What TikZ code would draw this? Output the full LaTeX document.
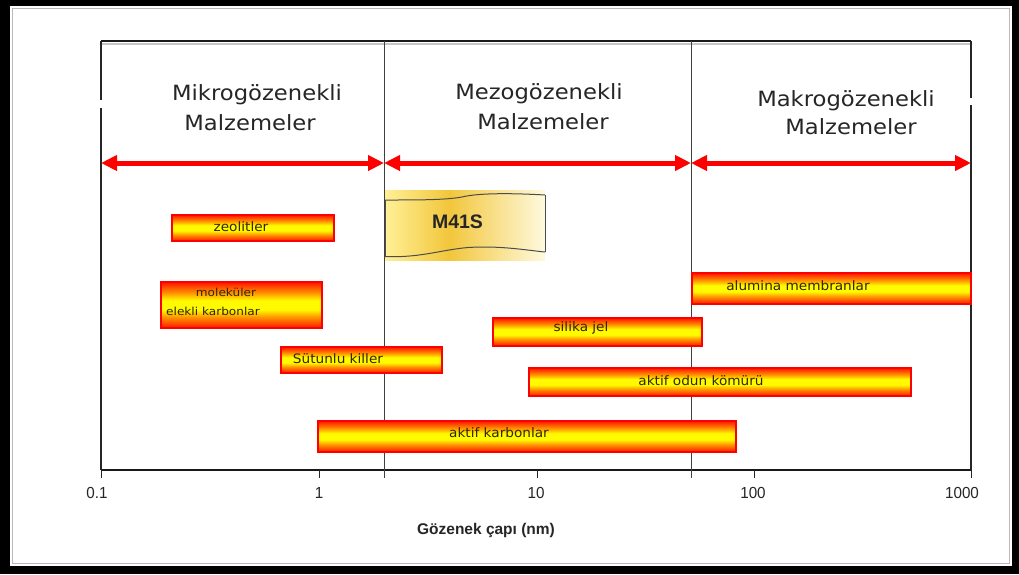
\documentclass[tikz,border=0pt]{standalone}
\usepackage{fontspec}
\setmainfont{DejaVu Sans}
\newfontfamily\hdrfont[FakeStretch=1.08]{DejaVu Sans}
\newfontfamily\barfont[FakeStretch=1.05]{DejaVu Sans}
\newfontfamily\smallfont[FakeStretch=1.1]{DejaVu Sans}
\newfontfamily\axfont[FakeStretch=0.95]{Liberation Sans}
\newfontfamily\mfont{Liberation Sans}
\usetikzlibrary{arrows.meta}
\definecolor{barred}{RGB}{255,20,0}
\definecolor{barorange}{RGB}{255,150,0}
\definecolor{baryel}{RGB}{255,250,0}
\definecolor{bartext}{RGB}{45,40,0}
\definecolor{tapeA}{RGB}{255,240,150}
\definecolor{tapeB}{RGB}{242,198,60}
\definecolor{tapeC}{RGB}{255,250,222}
\pgfdeclareverticalshading{barshade}{100bp}{color(0bp)=(barred); color(25bp)=(barred); color(37bp)=(barorange); color(45bp)=(baryel); color(55bp)=(baryel); color(63bp)=(barorange); color(75bp)=(barred); color(100bp)=(barred)}
\pgfdeclarehorizontalshading{tapeshade}{100bp}{color(0bp)=(tapeA); color(25bp)=(tapeA); color(45bp)=(tapeB); color(75bp)=(tapeC); color(100bp)=(tapeC)}
\tikzset{
  pbar/.style={draw=red, line width=1.6pt, shading=barshade},
  bartxt/.style={font=\barfont\fontsize{13}{15}\selectfont, text=bartext, inner sep=0pt},
  smalltxt/.style={font=\smallfont\fontsize{11}{13}\selectfont, text=bartext, inner sep=0pt},
  hdr/.style={font=\hdrfont\fontsize{21}{25}\selectfont, text=black!85, inner sep=0pt},
  ticklbl/.style={font=\axfont\fontsize{16}{18}\selectfont, text=black!85, inner sep=0pt},
  redarrow/.style={draw=red, line width=5pt, {Triangle[length=16pt,width=15pt]}-{Triangle[length=16pt,width=15pt]}},
  frameline/.style={draw=black!85, line width=1.8pt},
  divline/.style={draw=black!75, line width=0.9pt},
  tapeline/.style={draw=black!70, line width=1pt}
}
\begin{document}
\begin{tikzpicture}[x=1pt,y=-1pt]
\useasboundingbox (0,0) rectangle (1019,574);
% outer frame
\fill[black] (0,0) rectangle (1019,574);
\fill[white] (10,6) rectangle (1012,566);
\draw[gray!55, line width=0.8pt] (12.5,8.5) rectangle (1009.5,563.5);

% coordinates
\coordinate (L0) at (101,41);
\coordinate (R0) at (971,41);
\coordinate (LB) at (101,470);
\coordinate (RB) at (971,470);
\coordinate (D1t) at (384,41);
\coordinate (D1b) at (384,478);
\coordinate (D2t) at (691,41);
\coordinate (D2b) at (691,478);

% plot frame
\draw[gray!45, line width=1.5pt] (102,44) -- (972,44);
\draw[black!90, line width=2.6pt] (L0) -- (R0);
\draw[frameline] (L0) -- (101,100);
\draw[frameline] (101,108) -- (LB);
\draw[frameline] (R0) -- (971,98);
\draw[frameline] (971,105) -- (RB);
\draw[black!90, line width=2pt] (LB) -- (RB);
\draw[divline] (D1t) -- (D1b);
\draw[divline] (D2t) -- (D2b);
\foreach \x in {101,319.6,537.7,754.6,971}{
  \draw[black!85, line width=1pt] (\x,470) -- (\x,478);
}

% tick labels
\node[ticklbl] (t01) at (97,493) {0.1};
\node[ticklbl] (t1) at (319,493) {1};
\node[ticklbl] (t10) at (536,493) {10};
\node[ticklbl] (t100) at (753,493) {100};
\node[ticklbl] (t1000) at (962,493) {1000};
\node[font=\mfont\bfseries\fontsize{15.5}{18}\selectfont, text=black!85, inner sep=0pt] (xlabel) at (486,530) {Gözenek çapı (nm)};

% headers
\node[hdr] (h1a) at (257,95) {Mikrogözenekli};
\node[hdr] (h1b) at (250,123) {Malzemeler};
\node[hdr] (h2a) at (539,94) {Mezogözenekli};
\node[hdr] (h2b) at (543,122) {Malzemeler};
\node[hdr] (h3a) at (846,101) {Makrogözenekli};
\node[hdr] (h3b) at (851,127) {Malzemeler};

% red arrows
\coordinate (A0) at (101,163);
\coordinate (A1) at (384,163);
\coordinate (A2) at (691,163);
\coordinate (A3) at (971,163);
\draw[redarrow] (A0) -- (A1);
\draw[redarrow] (A1) -- (A2);
\draw[redarrow] (A2) -- (A3);

% M41S tape
\path[shading=tapeshade] (385,190) rectangle (545,260);
\draw[tapeline] (385,200) .. controls (420,200) and (445,200) .. (462,197) .. controls (478,193) and (510,193) .. (545,195);
\draw[tapeline] (385,256.5) .. controls (420,258) and (440,250) .. (468,247.5) .. controls (500,245.5) and (525,250) .. (545,252);
\draw[tapeline] (385,200) -- (385,256.5);
\draw[tapeline] (545,195) -- (545,252);
\node[font=\mfont\bfseries\fontsize{19.5}{21}\selectfont, text=black!85, inner sep=0pt] (m41s) at (457.5,221.5) {M41S};

% bars
\path[pbar] (172,215) rectangle (334,241);
\node[bartxt] (zeo) at (241,227) {zeolitler};

\path[pbar] (161,282) rectangle (322,328);
\node[smalltxt] (mol1) at (226,292) {moleküler};
\node[smalltxt] (mol2) at (213,311) {elekli karbonlar};

\path[pbar] (281,347) rectangle (442,373);
\node[bartxt] (sut) at (338,359) {Sütunlu killer};

\path[pbar] (493,318) rectangle (702,346);
\node[bartxt] (sil) at (581,328) {silika jel};

\path[pbar] (692,273) rectangle (971,304);
\node[bartxt] (alu) at (798,286) {alumina membranlar};

\path[pbar] (529,368) rectangle (911,396);
\node[bartxt] (odun) at (701,381) {aktif odun kömürü};

\path[pbar] (318,421) rectangle (736,452);
\node[bartxt] (karb) at (499,433) {aktif karbonlar};
\end{tikzpicture}
\end{document}
